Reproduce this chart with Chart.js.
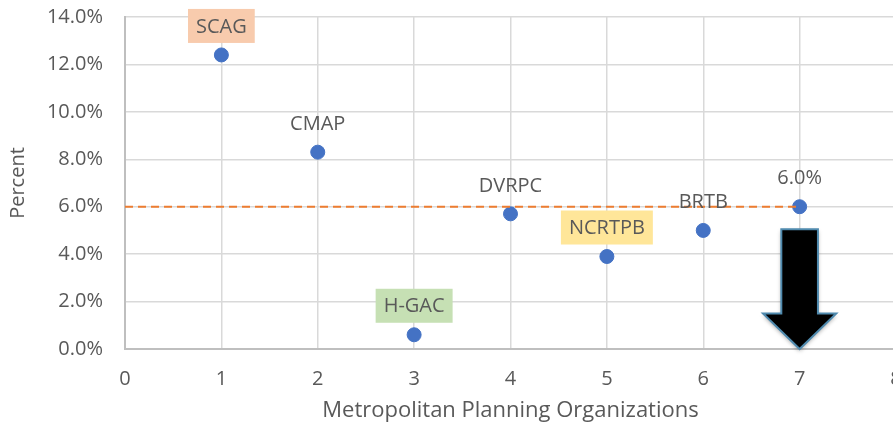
<!DOCTYPE html>
<html>
<head>
<meta charset="utf-8">
<script src="https://cdn.jsdelivr.net/npm/chart.js@4/dist/chart.umd.min.js"></script>
<style>
  html, body { margin: 0; padding: 0; background: #fff; overflow: hidden; }
  #wrap { position: relative; width: 904px; height: 428px; }
</style>
</head>
<body>
<div id="wrap"><canvas id="chart"></canvas></div>
<script>
// data
const orgIndex = [1, 2, 3, 4, 5, 6, 7];
const percentValues = [12.4, 8.3, 0.6, 5.7, 3.9, 5.0, 6.0];
const pointLabels = ["SCAG", "CMAP", "H-GAC", "DVRPC", "NCRTPB", "BRTB", "6.0%"];
const labelFills = ["#F8CBAD", null, "#C6E0B4", null, "#FFE699", null, null];
const targetLine = 6.0;
const targetFrom = 0;
const targetTo = 7;

const FONT = "'Open Sans', sans-serif";
const GREY = "#595959";

// draws the label text (and coloured box) above each point
const pointLabelPlugin = {
  id: "pointLabels",
  afterDatasetsDraw(chart) {
    const ctx = chart.ctx;
    const meta = chart.getDatasetMeta(1);
    ctx.save();
    ctx.font = "20px " + FONT;
    ctx.textAlign = "center";
    ctx.textBaseline = "middle";
    meta.data.forEach(function (pt, i) {
      var cx = pt.x;
      var cy = pt.y - 29;
      var w = ctx.measureText(pointLabels[i]).width;
      if (labelFills[i]) {
        ctx.fillStyle = labelFills[i];
        ctx.fillRect(cx - w / 2 - 8, cy - 17, w + 16, 34);
      }
      ctx.fillStyle = GREY;
      ctx.fillText(pointLabels[i], cx, cy + 1);
    });
    ctx.restore();
  }
};

// big black arrow pointing down at the last organization
const arrowPlugin = {
  id: "arrow",
  afterDatasetsDraw(chart) {
    const xs = chart.scales.x, ys = chart.scales.y;
    const ax = orgIndex[orgIndex.length - 1];
    const x0 = xs.getPixelForValue(ax);
    const shaftHalf = xs.getPixelForValue(ax + 0.19) - x0;
    const headHalf = xs.getPixelForValue(ax + 0.38) - x0;
    const top = ys.getPixelForValue(5.05);
    const headY = ys.getPixelForValue(1.5);
    const tip = ys.getPixelForValue(0);
    const ctx = chart.ctx;
    ctx.save();
    ctx.beginPath();
    ctx.moveTo(x0 - shaftHalf, top);
    ctx.lineTo(x0 + shaftHalf, top);
    ctx.lineTo(x0 + shaftHalf, headY);
    ctx.lineTo(x0 + headHalf, headY);
    ctx.lineTo(x0, tip);
    ctx.lineTo(x0 - headHalf, headY);
    ctx.lineTo(x0 - shaftHalf, headY);
    ctx.closePath();
    ctx.shadowColor = "rgba(0,0,0,0.35)";
    ctx.shadowBlur = 4;
    ctx.shadowOffsetY = 2;
    ctx.fillStyle = "#000";
    ctx.fill();
    ctx.shadowColor = "transparent";
    ctx.strokeStyle = "#4F8AAE";
    ctx.lineWidth = 2;
    ctx.stroke();
    ctx.restore();
  }
};

var ctx = document.getElementById("chart").getContext("2d");
var chart = new Chart(ctx, {
  type: "scatter",
  data: {
    datasets: [
      {
        label: "Target",
        type: "line",
        data: [{ x: targetFrom, y: targetLine }, { x: targetTo, y: targetLine }],
        borderColor: "#ED7D31",
        borderWidth: 2,
        borderDash: [8, 5],
        pointRadius: 0,
        fill: false,
      },
      {
        label: "Percent",
        data: orgIndex.map((x, i) => ({ x: x, y: percentValues[i] })),
        backgroundColor: "#4472C4",
        borderColor: "#4472C4",
        pointRadius: 7,
        pointHoverRadius: 7,
      },
    ],
  },
  options: {
    responsive: true,
    maintainAspectRatio: false,
    animation: false,
    layout: { padding: { top: 17, right: 0, left: 4, bottom: 2 } },
    plugins: {
      legend: { display: false },
      tooltip: { enabled: false },
    },
    scales: {
      x: {
        type: "linear",
        min: 0,
        max: 8,
        ticks: { stepSize: 1, color: GREY, font: { family: FONT, size: 20 }, padding: 18 },
        grid: { color: "#d9d9d9", lineWidth: 1.5, drawTicks: false },
        border: { color: "#bfbfbf", width: 2 },
        title: {
          display: true,
          text: "Metropolitan Planning Organizations",
          color: GREY,
          font: { family: FONT, size: 22 },
          padding: { top: 0, bottom: 2 },
        },
        afterFit(scale) {
          scale.height = 77;
          scale.paddingLeft = 0;
          scale.paddingRight = 0;
        },
      },
      y: {
        min: 0,
        max: 14,
        ticks: {
          stepSize: 2,
          color: GREY,
          font: { family: FONT, size: 20 },
          padding: 22,
          callback: (v) => v.toFixed(1) + "%",
        },
        grid: { color: "#d9d9d9", lineWidth: 1.5, drawTicks: false },
        border: { color: "#bfbfbf", width: 2 },
        title: {
          display: true,
          text: "Percent",
          color: GREY,
          font: { family: FONT, size: 20 },
          padding: { top: 2, bottom: 0 },
        },
        afterFit(scale) {
          scale.width = 121;
          scale.paddingTop = 0;
          scale.paddingBottom = 0;
        },
      },
    },
  },
  plugins: [pointLabelPlugin, arrowPlugin],
});
</script>
</body>
</html>
